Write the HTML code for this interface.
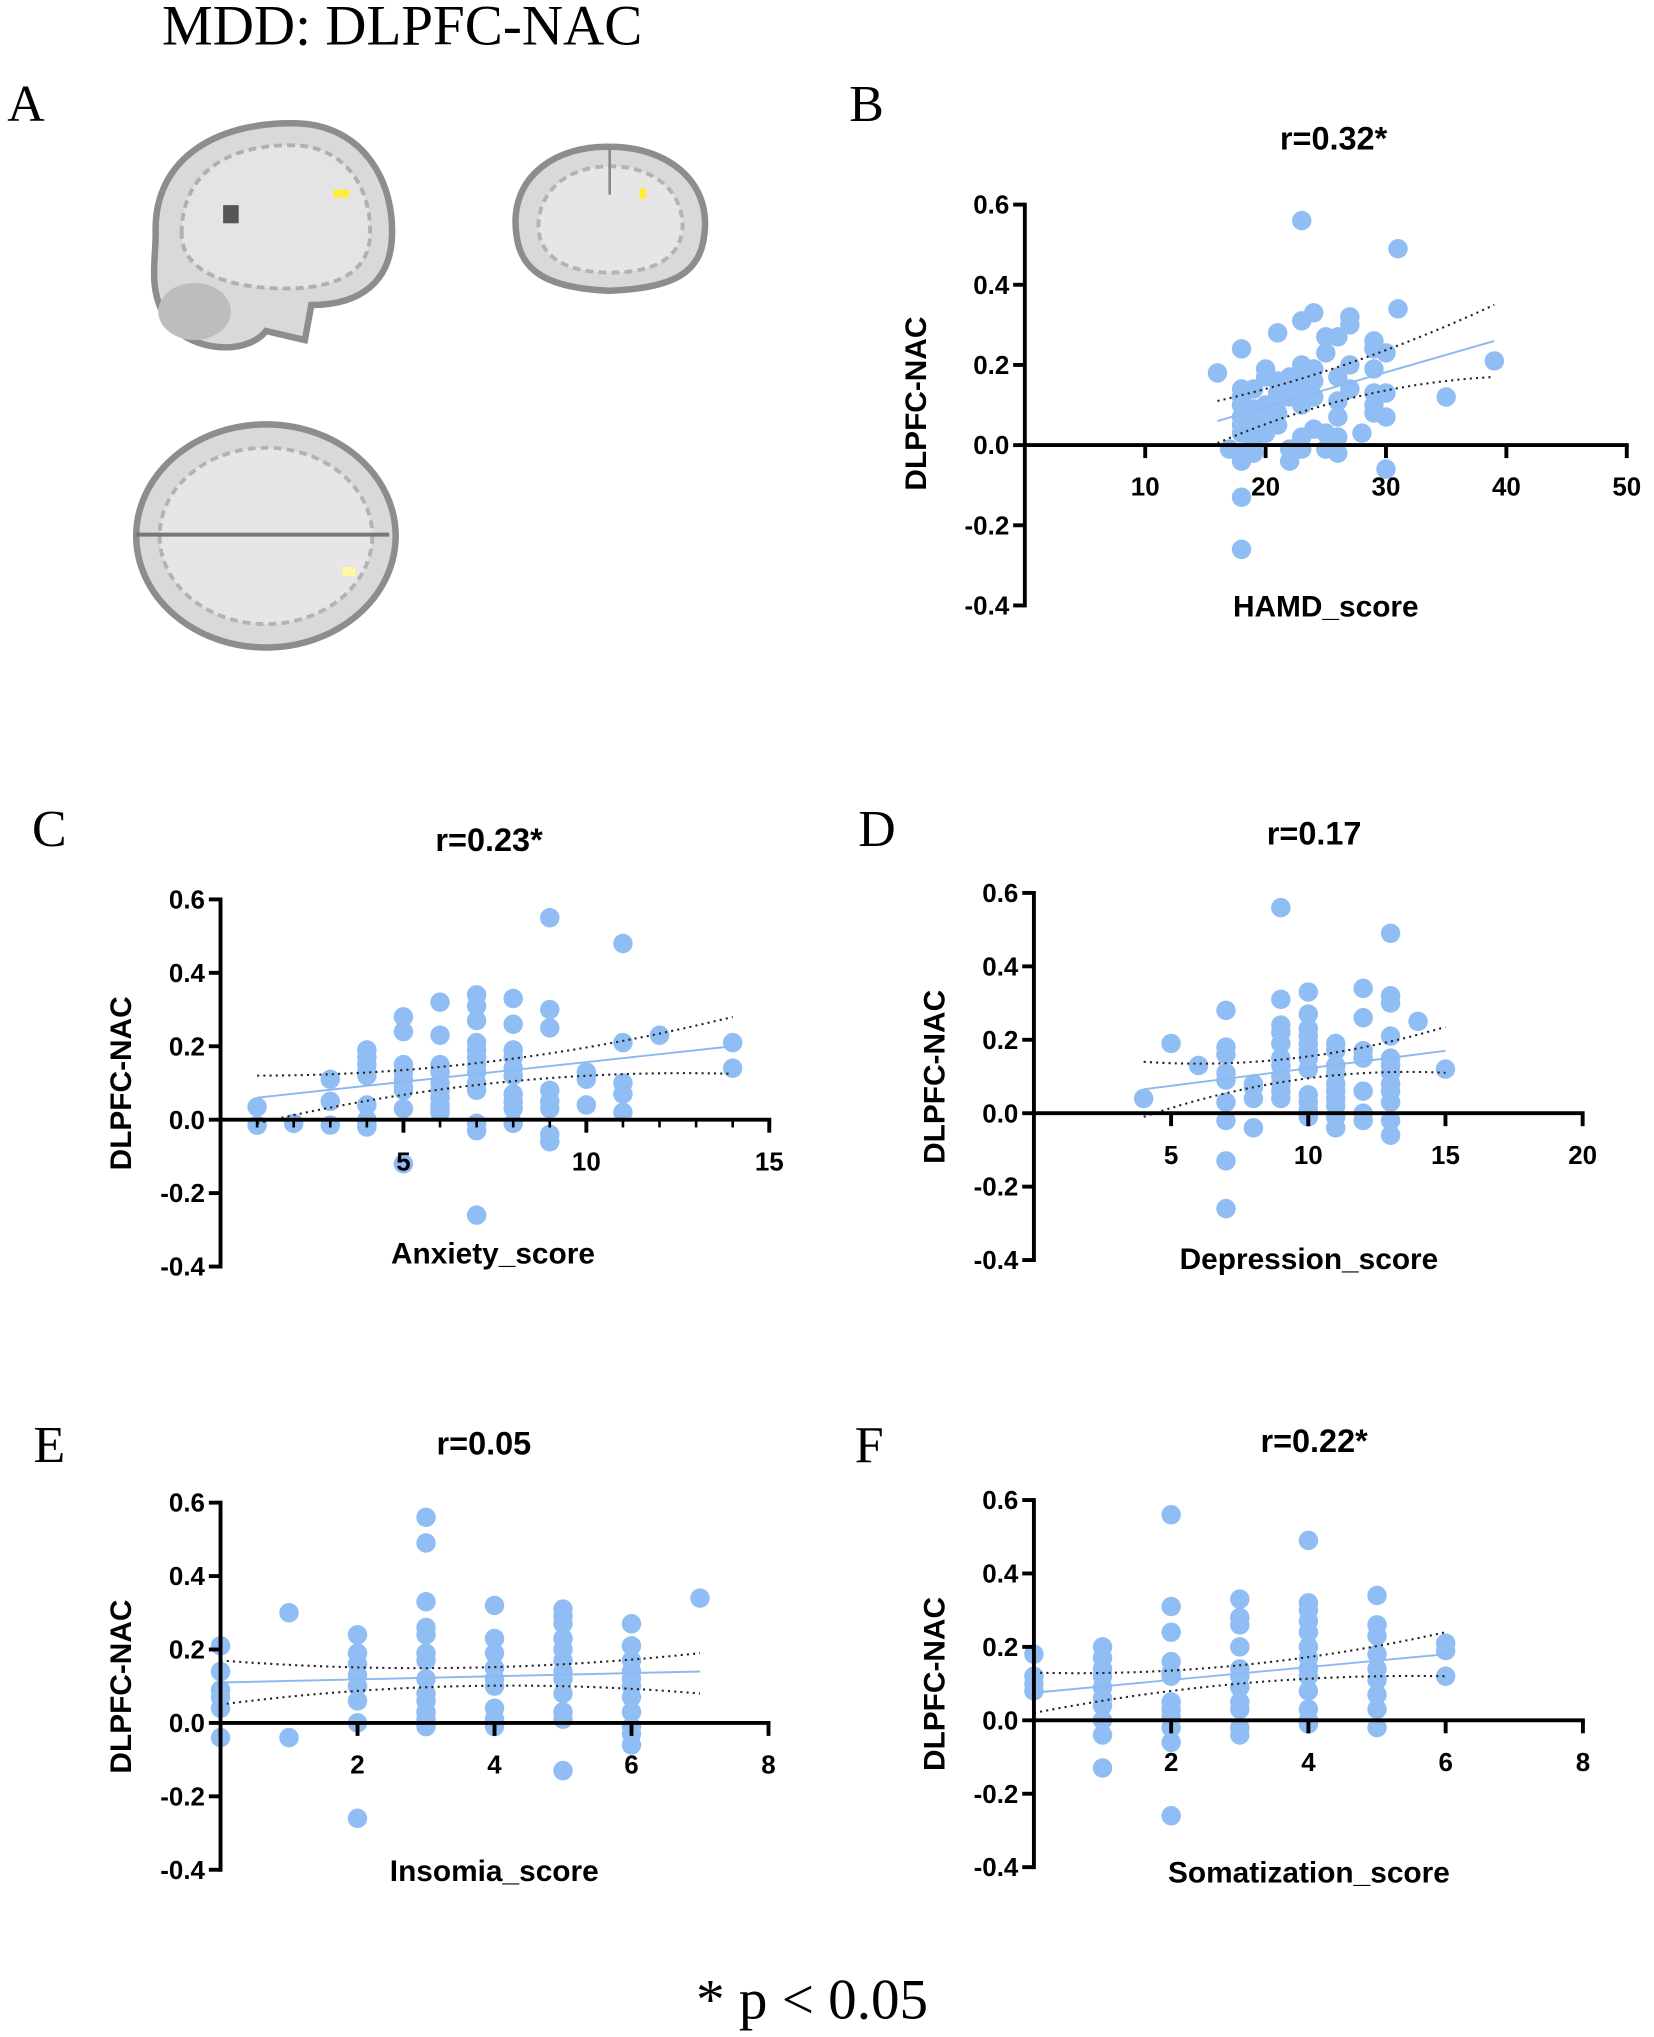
<!DOCTYPE html>
<html><head><meta charset="utf-8">
<style>
html,body{margin:0;padding:0;background:#fff;}
svg{display:block;}
.tk{font-family:"Liberation Sans",Arial,sans-serif;font-weight:bold;font-size:20px;fill:#000;}
.ttl{font-family:"Liberation Sans",Arial,sans-serif;font-weight:bold;font-size:25px;fill:#000;}
.ax{font-family:"Liberation Sans",Arial,sans-serif;font-weight:bold;font-size:23px;fill:#000;}
.ser{font-family:"Liberation Serif","Times New Roman",serif;fill:#000;}
</style></head>
<body>
<svg id="fig" width="1654" height="2037" viewBox="0 0 1275 1570" xmlns="http://www.w3.org/2000/svg">
<text class="ser" x="310" y="34" font-size="44" text-anchor="middle">MDD: DLPFC-NAC</text>
<text class="ser" x="20" y="93" font-size="40" text-anchor="middle">A</text>
<text class="ser" x="668" y="93" font-size="40" text-anchor="middle">B</text>
<text class="ser" x="38" y="652" font-size="40" text-anchor="middle">C</text>
<text class="ser" x="676" y="652" font-size="40" text-anchor="middle">D</text>
<text class="ser" x="38" y="1127" font-size="40" text-anchor="middle">E</text>
<text class="ser" x="670" y="1127" font-size="40" text-anchor="middle">F</text>
<text class="ser" x="626" y="1556" font-size="44" text-anchor="middle">* p &lt; 0.05</text>

<g>
<path d="M120,180 C118,120 170,93 230,95 C280,97 305,140 302,185 C300,215 280,235 240,235 L235,262 L205,255 C190,275 140,272 125,240 C115,220 120,200 120,180 Z" fill="#d9d9d9" stroke="#8d8d8d" stroke-width="5"/>
<path d="M140,180 C140,130 180,110 230,112 C270,115 288,150 285,185 C282,210 260,220 230,222 C190,224 140,215 140,180 Z" fill="#e4e4e4" stroke="#b0b0b0" stroke-width="3" stroke-dasharray="6 4"/>
<rect x="172" y="158" width="12" height="14" fill="#555"/>
<ellipse cx="150" cy="240" rx="28" ry="22" fill="#bdbdbd"/>
<rect x="257" y="146" width="12" height="6" fill="#ffee33"/>
</g>
<g>
<path d="M398,180 C392,135 430,112 470,113 C515,113 548,140 543,180 C540,210 520,222 470,224 C420,222 401,208 398,180 Z" fill="#d9d9d9" stroke="#8d8d8d" stroke-width="5"/>
<path d="M415,175 C415,145 440,128 470,128 C505,128 528,148 526,178 C522,202 500,210 470,210 C440,210 416,200 415,175 Z" fill="#e6e6e6" stroke="#b3b3b3" stroke-width="3" stroke-dasharray="6 4"/>
<line x1="470" y1="115" x2="470" y2="150" stroke="#888" stroke-width="2"/>
<rect x="493" y="145" width="5" height="8" fill="#ffee33"/>
</g>
<g>
<ellipse cx="205" cy="413" rx="100" ry="86" fill="#d9d9d9" stroke="#8d8d8d" stroke-width="5"/>
<ellipse cx="205" cy="413" rx="82" ry="68" fill="#e6e6e6" stroke="#b3b3b3" stroke-width="3" stroke-dasharray="6 4"/>
<line x1="105" y1="412" x2="300" y2="412" stroke="#777" stroke-width="3"/>
<rect x="264" y="437" width="10" height="7" fill="#fff8a0"/>
</g>
</svg>
<script>
// Panel B: HAMD_score
const bX = [16,17,18,18,18,18,18,18,18,18,18,18,18,19,19,19,19,19,19,20,20,20,20,20,20,21,21,21,21,21,21,22,22,22,22,22,23,23,23,23,23,23,23,23,24,24,24,24,24,25,25,25,25,26,26,26,26,26,26,27,27,27,27,28,29,29,29,29,29,29,30,30,30,30,31,31,35,39];
const bY = [0.18,-0.01,0.24,0.14,0.12,0.10,0.07,0.05,0.03,-0.02,-0.04,-0.13,-0.26,0.14,0.09,0.06,0.04,0.00,-0.02,0.19,0.17,0.10,0.07,0.05,0.03,0.28,0.16,0.13,0.11,0.08,0.05,0.17,0.14,0.12,-0.01,-0.04,0.31,0.56,0.20,0.16,0.13,0.10,0.02,-0.01,0.33,0.19,0.16,0.12,0.04,0.27,0.23,0.03,-0.01,0.27,0.17,0.11,0.07,0.02,-0.02,0.32,0.30,0.20,0.14,0.03,0.26,0.24,0.19,0.13,0.10,0.08,0.23,0.13,0.07,-0.06,0.49,0.34,0.12,0.21];
const bFitX = [16,39]; const bFitY = [0.06,0.26];
const bCiX = [16,27.5,39]; const bCiUp = [0.11,0.21,0.35]; const bCiLo = [0.005,0.12,0.17];
const bXTicks = [10,20,30,40,50];

// Panel C: Anxiety_score
const cX = [1,1,2,3,3,3,4,4,4,4,4,4,4,4,4,5,5,5,5,5,5,5,5,5,6,6,6,6,6,6,6,6,6,6,7,7,7,7,7,7,7,7,7,7,7,7,7,8,8,8,8,8,8,8,8,8,8,9,9,9,9,9,9,9,9,10,10,10,11,11,11,11,11,12,14,14];
const cY = [0.035,-0.015,-0.01,0.11,0.05,-0.015,0.19,0.17,0.15,0.13,0.12,0.04,0.0,-0.01,-0.02,0.28,0.24,0.15,0.13,0.11,0.09,0.08,0.03,-0.12,0.32,0.23,0.15,0.13,0.10,0.08,0.06,0.04,0.03,0.02,0.34,0.31,0.27,0.21,0.19,0.17,0.15,0.13,0.10,0.08,-0.01,-0.03,-0.26,0.33,0.26,0.19,0.17,0.14,0.12,0.07,0.05,0.03,-0.01,0.55,0.30,0.25,0.08,0.05,0.03,-0.04,-0.06,0.13,0.11,0.04,0.48,0.21,0.10,0.07,0.02,0.23,0.21,0.14];
const cFitX = [1,14]; const cFitY = [0.06,0.20];
const cCiX = [1,7.5,14]; const cCiUp = [0.12,0.16,0.28]; const cCiLo = [-0.01,0.10,0.125];
const cXTicks = [5,10,15];

// Panel D: Depression_score
const dX = [4,5,6,7,7,7,7,7,7,7,7,7,8,8,8,8,9,9,9,9,9,9,9,9,9,9,9,10,10,10,10,10,10,10,10,10,10,10,10,11,11,11,11,11,11,11,11,11,11,12,12,12,12,12,12,12,13,13,13,13,13,13,13,13,13,13,13,13,14,15];
const dY = [0.04,0.19,0.13,0.28,0.18,0.16,0.11,0.09,0.03,-0.02,-0.13,-0.26,0.08,0.07,0.04,-0.04,0.56,0.31,0.24,0.22,0.19,0.15,0.13,0.10,0.08,0.06,0.04,0.33,0.27,0.23,0.21,0.19,0.17,0.15,0.12,0.05,0.03,0.01,-0.01,0.19,0.17,0.13,0.11,0.08,0.06,0.04,0.02,-0.01,-0.04,0.34,0.26,0.17,0.15,0.06,0.0,-0.02,0.49,0.32,0.30,0.21,0.15,0.13,0.11,0.08,0.06,0.03,-0.02,-0.06,0.25,0.12];
const dFitX = [4,15]; const dFitY = [0.065,0.17];
const dCiX = [4,9.5,15]; const dCiUp = [0.14,0.15,0.235]; const dCiLo = [-0.01,0.09,0.11];
const dXTicks = [5,10,15,20];

// Panel E: Insomia_score
const eX = [0,0,0,0,0,0,1,1,2,2,2,2,2,2,2,2,3,3,3,3,3,3,3,3,3,3,3,3,3,4,4,4,4,4,4,4,4,4,5,5,5,5,5,5,5,5,5,5,5,5,6,6,6,6,6,6,6,6,6,6,6,7];
const eY = [0.21,0.14,0.09,0.07,0.04,-0.04,0.30,-0.04,0.24,0.19,0.16,0.13,0.10,0.06,0.0,-0.26,0.56,0.49,0.33,0.26,0.24,0.19,0.17,0.12,0.08,0.06,0.03,0.01,-0.01,0.32,0.23,0.19,0.15,0.12,0.10,0.04,0.01,-0.01,0.31,0.29,0.27,0.23,0.20,0.17,0.14,0.12,0.08,0.03,0.01,-0.13,0.27,0.21,0.17,0.14,0.12,0.10,0.07,0.03,-0.01,-0.03,-0.06,0.34];
const eFitX = [0,7]; const eFitY = [0.11,0.14];
const eCiX = [0,3.5,7]; const eCiUp = [0.17,0.15,0.19]; const eCiLo = [0.05,0.10,0.08];
const eXTicks = [2,4,6,8];

// Panel F: Somatization_score
const fX = [0,0,0,0,1,1,1,1,1,1,1,1,1,1,2,2,2,2,2,2,2,2,2,2,2,2,3,3,3,3,3,3,3,3,3,3,3,4,4,4,4,4,4,4,4,4,4,4,4,4,5,5,5,5,5,5,5,5,5,6,6,6];
const fY = [0.18,0.12,0.10,0.08,0.20,0.17,0.14,0.12,0.09,0.06,0.04,0.0,-0.04,-0.13,0.56,0.31,0.24,0.16,0.13,0.12,0.05,0.03,0.01,-0.02,-0.06,-0.26,0.33,0.28,0.26,0.20,0.14,0.12,0.09,0.05,0.03,-0.02,-0.04,0.49,0.32,0.30,0.27,0.24,0.20,0.17,0.14,0.12,0.08,0.03,0.0,-0.01,0.34,0.26,0.23,0.18,0.14,0.11,0.07,0.03,-0.02,0.21,0.19,0.12];
const fFitX = [0,6]; const fFitY = [0.075,0.18];
const fCiX = [0,3,6]; const fCiUp = [0.13,0.15,0.24]; const fCiLo = [0.02,0.10,0.12];
const fXTicks = [2,4,6,8];

const yTicks = [0.6,0.4,0.2,0.0,-0.2,-0.4];
const yTickLabels = ["0.6","0.4","0.2","0.0","-0.2","-0.4"];

const svg = document.getElementById('fig');
const NS = 'http://www.w3.org/2000/svg';
function mk(tag, attrs, parent){const e=document.createElementNS(NS,tag);for(const k in attrs)e.setAttribute(k,attrs[k]);parent.appendChild(e);return e;}

function panel(key, cfg, xs, ys, fitX, fitY, ciX, ciUp, ciLo, xTicks){
  const g = mk('g',{},svg);
  
  
  const sx = v => cfg.ox + v*cfg.xs;
  const sy = v => cfg.y0 - v*cfg.ys;
  const t = mk('text',{x:cfg.tx,y:cfg.ty,'class':'ttl','text-anchor':'middle'},g);
  t.textContent = cfg.title;
  
  
  const pg = mk('g',{},g);
  
  
  for(let i=0;i<xs.length;i++){
    const c = mk('circle',{cx:sx(xs[i]),cy:sy(ys[i]),r:7.5,fill:'#90bdf3'},pg);
    
    
  }
  [ciUp, ciLo].forEach((arr, j) => {
    const ax=sx(ciX[0]), ay=sy(arr[0]), mx=sx(ciX[1]), my=sy(arr[1]), bx=sx(ciX[2]), by=sy(arr[2]);
    const cx = 2*mx - (ax+bx)/2, cy = 2*my - (ay+by)/2;
    const p = mk('path',{d:`M${ax},${ay} Q${cx},${cy} ${bx},${by}`,fill:'none',stroke:'#222','stroke-width':1.6,'stroke-dasharray':'1.6 3.2'},g);
    
    
  });
  const fl = mk('line',{x1:sx(fitX[0]),y1:sy(fitY[0]),x2:sx(fitX[1]),y2:sy(fitY[1]),stroke:'#8cb9f0','stroke-width':1.5},g);
  
  
  const ya = mk('g',{},g);
  
  
  mk('line',{x1:cfg.ox,y1:sy(0.6)-1.5,x2:cfg.ox,y2:sy(-0.4)+1.5,stroke:'#000','stroke-width':3},ya);
  yTicks.forEach((v,i)=>{
    mk('line',{x1:cfg.ox-9,y1:sy(v),x2:cfg.ox,y2:sy(v),stroke:'#000','stroke-width':3},ya);
    const l = mk('text',{x:cfg.ox-12,y:sy(v)+7,'class':'tk','text-anchor':'end'},ya);
    l.textContent = yTickLabels[i];
    
    
  });
  const xa = mk('g',{},g);
  
  
  mk('line',{x1:cfg.ox,y1:cfg.y0,x2:sx(cfg.xmax)+1.5,y2:cfg.y0,stroke:'#000','stroke-width':3},xa);
  if(cfg.minor){for(let v=1;v<=cfg.xmax;v++){mk('line',{x1:sx(v),y1:cfg.y0,x2:sx(v),y2:cfg.y0+6,stroke:'#000','stroke-width':2},xa);}}
  xTicks.forEach(v=>{
    mk('line',{x1:sx(v),y1:cfg.y0,x2:sx(v),y2:cfg.y0+10,stroke:'#000','stroke-width':3},xa);
    const l = mk('text',{x:sx(v),y:cfg.y0+39,'class':'tk','text-anchor':'middle'},xa);
    l.textContent = String(v);
    
    
  });
  const xl = mk('text',{x:cfg.xlx,y:cfg.xly,'class':'ax','text-anchor':'middle'},g);
  xl.textContent = cfg.xlabel;
  
  
  const yl = mk('text',{x:0,y:0,'class':'ax','text-anchor':'middle',transform:`translate(${cfg.ylx},${cfg.yly}) rotate(-90)`},g);
  yl.textContent = 'DLPFC-NAC';
  
  
}

panel('b',{ox:790,xs:9.28,xmax:50,y0:343,ys:309,title:'r=0.32*',tx:1028,ty:115,xlabel:'HAMD_score',xlx:1022,xly:475,ylx:714,yly:311},bX,bY,bFitX,bFitY,bCiX,bCiUp,bCiLo,bXTicks);
panel('c',{ox:170,xs:28.2,xmax:15,y0:863,ys:283,minor:true,title:'r=0.23*',tx:377,ty:656,xlabel:'Anxiety_score',xlx:380,xly:974,ylx:101,yly:835},cX,cY,cFitX,cFitY,cCiX,cCiUp,cCiLo,cXTicks);
panel('d',{ox:797,xs:21.15,xmax:20,y0:858,ys:283,title:'r=0.17',tx:1013,ty:651,xlabel:'Depression_score',xlx:1009,xly:978,ylx:728,yly:830},dX,dY,dFitX,dFitY,dCiX,dCiUp,dCiLo,dXTicks);
panel('e',{ox:170,xs:52.8,xmax:8,y0:1328,ys:283,title:'r=0.05',tx:373,ty:1121,xlabel:'Insomia_score',xlx:381,xly:1450,ylx:101,yly:1300},eX,eY,eFitX,eFitY,eCiX,eCiUp,eCiLo,eXTicks);
panel('f',{ox:797,xs:52.9,xmax:8,y0:1326,ys:283,title:'r=0.22*',tx:1013,ty:1119,xlabel:'Somatization_score',xlx:1009,xly:1451,ylx:728,yly:1298},fX,fY,fFitX,fFitY,fCiX,fCiUp,fCiLo,fXTicks);
</script>
</body></html>
